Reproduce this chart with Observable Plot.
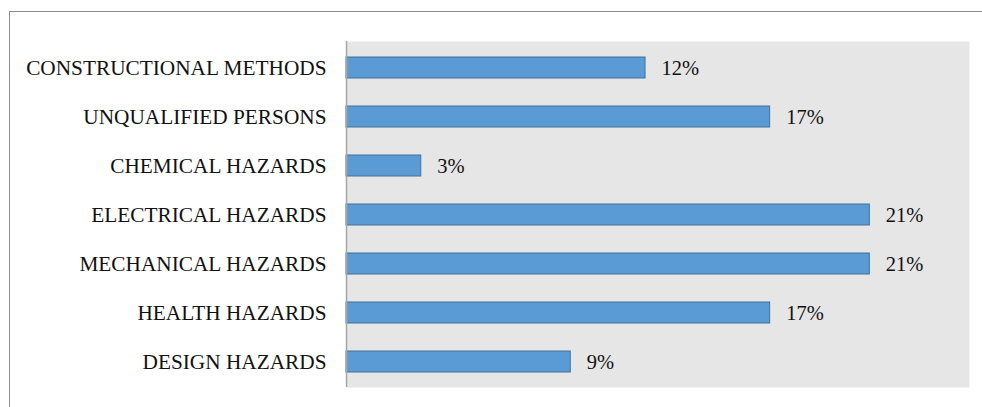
<!DOCTYPE html>
<html>
<head>
<meta charset="utf-8">
<script src="https://cdn.jsdelivr.net/npm/d3@7"></script>
<script src="https://cdn.jsdelivr.net/npm/@observablehq/plot@0.6"></script>
<style>
  html, body { margin: 0; padding: 0; background: #fff; }
  #wrap { position: relative; width: 982px; height: 407px; overflow: hidden; }
  #frame {
    position: absolute; left: 9px; top: 11px; right: -2px; bottom: -2px;
    border-top: 1.5px solid #8c8c8c; border-left: 1.5px solid #8c8c8c;
    pointer-events: none;
  }
  #chart { position: absolute; left: 0; top: 0; }
</style>
</head>
<body>
<div id="wrap">
  <div id="frame"></div>
  <div id="chart"></div>
</div>
<script>
// Share of accident causes by hazard category (%)
const categories = [
  "CONSTRUCTIONAL METHODS",
  "UNQUALIFIED PERSONS",
  "CHEMICAL HAZARDS",
  "ELECTRICAL HAZARDS",
  "MECHANICAL HAZARDS",
  "HEALTH HAZARDS",
  "DESIGN HAZARDS"
];
const percents = [12, 17, 3, 21, 21, 17, 9];

const rows = categories.map((c, i) => ({category: c, value: percents[i]}));

const serif = "'Liberation Serif', 'Times New Roman', serif";

const chart = Plot.plot({
  width: 982,
  height: 407,
  marginLeft: 346,
  marginRight: 13,
  marginTop: 41,
  marginBottom: 20,
  style: {background: "transparent", fontFamily: serif, color: "#111"},
  x: {domain: [0, 25], axis: null},
  y: {domain: categories, paddingInner: 0.575, paddingOuter: 0.27, label: null},
  marks: [
    Plot.frame({fill: "#e6e6e6", stroke: null}),
    Plot.barX(rows, {
      x: "value", y: "category",
      fill: "#5b9bd5", stroke: "#41719c", strokeWidth: 1
    }),
    Plot.ruleX([0], {stroke: "#a6a6a6", strokeWidth: 1.5}),
    Plot.text(rows, {
      x: "value", y: "category",
      text: d => `${d.value}%`,
      textAnchor: "start", dx: 16,
      fontSize: 20.5, fill: "#111", fontFamily: serif
    }),
    Plot.axisY({
      tickSize: 0, tickPadding: 20,
      fontSize: 21.3, fontFamily: serif, label: null
    })
  ]
});

document.getElementById("chart").append(chart);
</script>
</body>
</html>
